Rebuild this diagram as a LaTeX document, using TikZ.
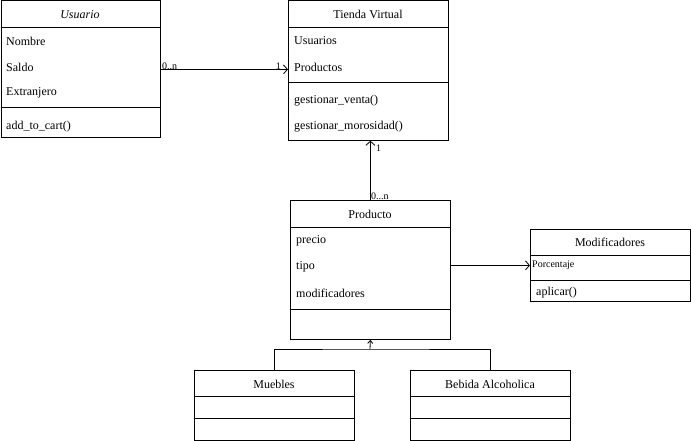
\documentclass[tikz,border=0pt]{standalone}
\usepackage{fontspec}
\setmainfont{Liberation Serif}
\usetikzlibrary{positioning,arrows.meta}

\begin{document}
\begin{tikzpicture}[x=1pt,y=-1pt,
    font=\fontsize{12}{14}\selectfont,
    class/.style={draw,thick,anchor=north west,inner sep=0pt},
    head/.style={anchor=center},
    attr/.style={anchor=west,inner sep=0pt},
    mult/.style={font=\fontsize{10}{11}\selectfont,inner sep=1pt},
    assoc/.style={thick,-{Straight Barb[length=4pt,width=9pt]}}]
  \useasboundingbox (0,0) rectangle (691,441);
  % clases
  \node[class,minimum width=159pt,minimum height=137pt] (usuario) at (0.5,0.5) {};
  \node[class,minimum width=160pt,minimum height=139.5pt] (tienda) at (288,0.5) {};
  \node[class,minimum width=160pt,minimum height=139pt] (producto) at (290,200) {};
  \node[class,minimum width=160pt,minimum height=72pt] (modif) at (530,229) {};
  \node[class,minimum width=160pt,minimum height=70pt] (muebles) at (194,370) {};
  \node[class,minimum width=160pt,minimum height=70pt] (bebida) at (410,370) {};
  % separadores
  \draw[thick] (0.5,27) -- (159.5,27) (0.5,107) -- (159.5,107);
  \draw[thick] (288,27) -- (448,27) (288,82) -- (448,82);
  \draw[thick] (290,227) -- (450,227) (290,309) -- (450,309);
  \draw[thick] (530,255) -- (690,255) (530,280) -- (690,280);
  \draw[thick] (194,396) -- (354,396) (194,418) -- (354,418);
  \draw[thick] (410,396) -- (570,396) (410,418) -- (570,418);
  % textos
  \node[head] (usuarioN) at (80,15) {\textit{Usuario}};
  \node[attr] (nombre) at (6,41) {Nombre};
  \node[attr] (saldo) at (6,67) {Saldo};
  \node[attr] (extranjero) at (6,93) {Extranjero};
  \node[attr] (addcart) at (6,127) {add\_to\_cart()};
  \node[head] (tiendaN) at (368,14) {Tienda Virtual};
  \node[attr] (usuarios) at (294,41) {Usuarios};
  \node[attr] (productos) at (294,67) {Productos};
  \node[attr] (venta) at (294,101) {gestionar\_venta()};
  \node[attr] (morosidad) at (294,127) {gestionar\_morosidad()};
  \node[head] (productoN) at (370,214) {Producto};
  \node[attr] (precio) at (296,241) {precio};
  \node[attr] (tipo) at (296,267) {tipo};
  \node[attr] (modificadores) at (296,293) {modificadores};
  \node[head] (modifN) at (610,242) {Modificadores};
  \node[attr,font=\fontsize{10}{11}\selectfont] (porcentaje) at (532,265) {Porcentaje};
  \node[attr] (aplicar) at (536,293) {aplicar()};
  \node[head] (mueblesN) at (274,384) {Muebles};
  \node[head] (bebidaN) at (490,384) {Bebida Alcoholica};
  % relaciones
  \draw[assoc] (usuario.east) -- (usuario.east -| tienda.west);
  \node[mult,anchor=south west] (m1) at (161,71) {0..n};
  \node[mult,anchor=south east] (m2) at (282,71) {1};
  \draw[assoc] (producto.north) -- (producto.north |- tienda.south);
  \node[mult,anchor=west] (m3) at (375,148) {1};
  \node[mult,anchor=south west] (m4) at (370,201) {0...n};
  \draw[assoc] (modif.west -| producto.east) -- (modif.west);
  \coordinate (gen) at (370,349);
  \draw[thick] (muebles.north) |- (gen) -| (bebida.north);
  \draw[thick,-{Straight Barb[length=3pt,width=5pt]}] (gen) -- (producto.south);
\end{tikzpicture}
\end{document}
